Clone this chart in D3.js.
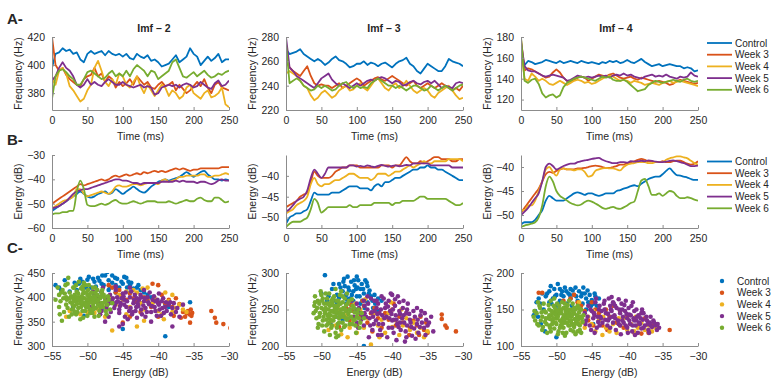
<!DOCTYPE html>
<html>
<head>
<meta charset="utf-8">
<script src="https://cdn.jsdelivr.net/npm/d3@7"></script>
<style>
  body { margin: 0; background: #fff; }
  svg { display: block; }
  text { font-family: "Liberation Sans", Arial, sans-serif; fill: #262626; }
</style>
</head>
<body>
<svg id="fig" width="772" height="383"></svg>
<script>
// ---- data ----
const groups = ['Control', 'Week 3', 'Week 4', 'Week 5', 'Week 6'];
const times = d3.range(0, 251, 5); // sampling grid, ms
const imfTitles = ['Imf – 2', 'Imf – 3', 'Imf – 4'];
const timeTicks = [0, 50, 100, 150, 200, 250];
const energyTicks = [-55, -50, -45, -40, -35, -30];

const freqDomains = [[368, 420], [220, 280], [110, 180]];
const freqTicks = [[380, 400, 420], [220, 240, 260, 280], [120, 140, 160, 180]];
const energyDomains = [[-60, -30], [-52.5, -35], [-52.7, -37.5]];
const energyYTicks = [[-60, -50, -40, -30], [-50, -45, -40], [-50, -45, -40]];
const scatterYDomains = [[300, 450], [200, 300], [100, 200]];
const scatterYTicks = [[300, 350, 400, 450], [200, 250, 300], [100, 150, 200]];

// A row: frequency vs time, one array per group
const freqImf2 = [
  [398,408,409,412,410,411,408,409,404,402,408,410,408,409,410,407,410,408,407,408,406,408,405,404,408,406,405,407,403,404,402,399,400,401,404,407,402,404,406,412,408,406,400,403,406,403,405,408,402,404,404],
  [420,400,396,398,393,390,388,386,385,390,392,393,398,392,394,388,392,390,384,388,385,387,390,386,392,389,386,388,384,383,386,388,385,386,388,382,386,383,380,382,385,388,385,390,384,380,386,388,384,383,382],
  [390,386,396,398,394,385,382,378,374,376,382,386,398,403,396,388,385,390,386,394,392,386,384,388,392,385,380,386,382,378,382,386,384,378,382,380,376,378,384,386,380,378,376,380,382,377,378,380,384,372,370],
  [389,392,398,402,398,396,392,386,384,386,390,386,388,386,385,388,390,388,386,386,388,386,385,384,385,386,384,385,384,379,380,384,385,386,385,386,384,386,387,386,384,385,388,386,384,383,387,389,385,386,389],
  [376,392,396,397,395,392,390,386,386,390,395,396,394,392,390,391,394,396,392,394,392,396,392,397,400,398,396,392,396,395,390,392,394,396,402,404,398,392,391,393,395,392,394,396,393,391,392,394,393,395,396]
];
const freqImf3 = [
  [270,266,267,268,270,266,264,262,260,262,260,257,259,262,264,261,260,258,255,256,258,258,260,257,259,258,256,258,259,257,255,258,260,261,263,258,256,252,250,254,258,256,254,252,252,256,262,260,259,258,256],
  [260,255,252,250,248,252,256,248,242,240,241,240,240,238,240,242,238,240,242,244,246,244,240,242,244,246,247,245,244,246,248,246,244,242,240,242,244,240,238,240,242,240,238,240,242,240,238,236,238,236,240],
  [250,252,250,248,244,240,238,232,228,230,234,236,233,230,232,236,238,240,236,237,240,242,238,236,240,244,246,242,238,236,240,242,238,240,244,240,236,234,236,238,236,232,230,234,236,238,240,236,232,229,230],
  [280,255,252,248,246,244,242,240,238,242,246,248,250,245,242,240,242,240,238,240,242,240,242,244,245,244,246,247,246,244,242,244,243,240,241,243,244,242,241,243,244,242,244,241,238,240,239,238,242,243,242],
  [275,242,244,246,244,240,238,236,237,240,238,240,238,236,237,240,242,243,240,238,240,238,239,238,242,244,246,244,242,240,240,238,240,238,236,238,240,240,238,236,237,240,238,236,238,240,238,236,238,240,241]
];
const freqImf4 = [
  [165,153,157,156,154,155,156,158,157,156,155,157,155,156,157,156,155,157,156,155,156,155,154,156,155,157,156,157,155,156,158,156,155,157,159,156,154,152,153,154,152,153,154,153,152,152,150,151,150,147,148],
  [178,148,150,149,147,145,143,141,142,146,149,146,141,138,137,139,141,142,141,138,140,142,144,143,142,144,145,143,141,140,141,142,140,139,141,140,139,138,137,138,137,136,134,135,138,139,138,137,136,135,136],
  [170,140,138,145,142,138,140,138,135,134,136,138,136,134,136,138,139,138,136,137,135,136,138,140,142,143,142,140,138,139,138,136,138,137,136,134,135,136,135,134,136,137,138,136,137,138,137,136,135,134,133],
  [175,152,148,147,147,145,143,142,143,144,143,142,141,138,139,141,143,142,141,142,141,142,143,142,143,141,143,144,143,145,143,144,142,141,140,142,143,144,142,143,142,144,142,141,140,142,141,142,146,143,142],
  [180,138,136,139,140,135,126,122,124,125,122,124,132,136,138,140,141,142,141,140,139,138,140,142,141,142,139,138,138,139,137,134,131,128,129,130,134,136,138,137,136,137,138,139,138,137,139,140,138,137,138]
];

// B row: energy vs time
const energyImf2 = [
  [-53,-52,-51,-50,-49,-48,-47,-46,-45,-46,-47,-47.5,-47,-46,-45.5,-45,-46,-45.5,-44,-45,-46,-45,-44,-43,-44,-45,-45.5,-44.5,-43,-42,-41,-40.5,-40,-40.5,-40,-39.5,-39,-38,-37,-38,-39,-38,-37,-36.5,-38,-39,-40,-40,-40.5,-40,-40.5],
  [-50,-49,-48,-47,-46,-45,-44,-43,-42,-42.5,-42,-41.5,-41,-40.5,-40,-40.5,-40,-39,-38.5,-39,-38.5,-38,-38.5,-38,-37.5,-38,-37,-37.5,-37,-36.5,-37,-36.5,-37,-36.5,-36,-35.5,-36,-35.5,-36,-36.5,-36,-36,-35.5,-35.5,-35.5,-35.5,-35.5,-35.5,-35,-35,-35],
  [-52,-51,-50,-49,-48.5,-48,-47,-44,-44,-46,-47,-46.5,-46,-45.5,-45,-45.5,-46,-45,-43,-42.5,-43,-43,-42.5,-42,-42,-42.5,-42,-41.5,-41.5,-41.5,-42,-40.5,-40,-41,-40.5,-40,-39,-39,-38.5,-38.5,-38.5,-38.5,-38,-38,-39,-39,-38.5,-38.5,-38,-37.5,-38],
  [-52,-51.5,-51,-50,-49,-47.5,-46,-45,-44.5,-44,-44,-43.5,-43,-42.5,-42,-41.5,-41,-40.5,-40,-40,-40.5,-40.5,-41,-41.5,-41.5,-42,-41.5,-41.5,-41.5,-41.5,-41.5,-41,-41,-41,-41,-40.5,-41,-40.5,-41,-41,-41,-41.5,-41,-41,-41.5,-42,-41.5,-40.5,-40,-40.5,-40.5],
  [-54.5,-54,-54,-53.5,-53.5,-53,-53,-45,-40.5,-44,-50.5,-51,-51,-50.5,-50,-50.5,-50,-49,-48.5,-49.5,-50,-50,-49.5,-49,-49.5,-50,-49.5,-49,-49,-49,-49.5,-49.5,-49.5,-49,-49.5,-50,-49.5,-49,-48.5,-49,-49,-48,-47.5,-48.5,-49,-49,-47.5,-47.5,-48.5,-49.5,-49]
];
const energyImf3 = [
  [-51.5,-50,-49.5,-49,-49,-48.5,-48,-46,-44,-44.5,-44.5,-44.5,-44.5,-44,-44,-44,-43.5,-43,-42.5,-42.5,-42.5,-43,-43,-43,-43.5,-42.5,-42,-42.5,-41.5,-41.5,-41,-40.5,-40.5,-40,-39.5,-39,-38.5,-38.5,-38,-38,-37.5,-38,-38,-38.5,-38.5,-39,-39.5,-40,-40.5,-41,-41],
  [-47.5,-47,-46.5,-46,-45,-44.5,-44,-41.5,-39,-40,-40.5,-40.5,-40.5,-40,-39,-38.5,-38,-38,-37.5,-37.5,-37.5,-38,-38,-38,-38,-38,-38,-37.5,-37.5,-37.5,-38,-37.5,-37.5,-36.5,-35.5,-36.5,-37,-37,-36.5,-37,-36.5,-36,-35.5,-35.5,-36,-36,-36,-36.5,-36.5,-36,-36],
  [-49,-48.5,-48,-47,-46.5,-46,-45,-42,-40.5,-42,-42.5,-42,-42,-41.5,-41,-41,-40.5,-40,-39.5,-39.5,-40,-40.5,-40.5,-40.5,-41,-40.5,-39.5,-39.5,-39.5,-40,-39.5,-39,-39,-38.5,-38,-37.5,-38,-37.5,-37,-36.5,-37,-37,-36.5,-36.5,-36.5,-36.5,-36,-36,-36,-36,-36.5],
  [-48.5,-48,-47,-46,-45.5,-45,-43.5,-40.5,-38.5,-39.5,-40.5,-39.5,-38,-38,-38,-38,-38,-38,-37.5,-37.5,-37.8,-37.6,-37.8,-37.5,-37.7,-37.9,-37.6,-37.4,-37.6,-37.8,-37.6,-37.5,-37.7,-37.6,-37.4,-37.5,-37,-37,-37,-37,-37,-37.5,-37.5,-37.5,-37.5,-37.5,-37.5,-38,-38,-38,-38],
  [-52.3,-51.5,-51,-51,-51,-50.5,-50,-48,-45.5,-46.5,-48.8,-48.2,-47.5,-47.5,-47.5,-47.5,-47.5,-47.5,-47,-47.5,-47.5,-47,-47,-47,-47,-46.5,-46.5,-46.5,-46.5,-46.5,-47,-46.5,-46.5,-46,-46,-46,-46,-45.5,-45,-45,-45.5,-45.5,-45.5,-45.5,-45.5,-45.5,-46,-46.5,-47,-47,-46.5]
];
const energyImf4 = [
  [-52,-51.5,-51.5,-51.5,-51,-50,-49,-47,-46,-46.5,-47,-47,-47,-46.5,-46,-45.5,-45.3,-45.5,-45.8,-45.5,-45.5,-45.8,-46,-45.8,-45.5,-45.5,-45.5,-45,-44.8,-44.5,-44.3,-44,-43.8,-44,-43.5,-43,-42.5,-42.2,-42,-42,-41.5,-40.8,-40.3,-41,-41.7,-41.8,-42,-42.2,-42.5,-42.7,-42.7],
  [-49.5,-48.5,-47.5,-46.5,-45.5,-44.5,-43,-41.5,-41,-41.2,-40.8,-40.5,-40.3,-40.5,-40.5,-40.5,-40.3,-40.3,-40.2,-40,-39.8,-39.7,-39.8,-40,-40.2,-40.2,-40,-39.8,-39.5,-39.5,-39.2,-39,-38.8,-38.5,-38.3,-38.5,-38.8,-38.8,-39,-39,-38.8,-39,-39,-38.8,-38.7,-38.7,-39,-39.3,-39.5,-39.3,-38.8],
  [-49,-49,-48,-48,-47,-45,-43,-40.5,-40,-41,-41.8,-40.5,-40.3,-40.5,-40.5,-40.7,-40.5,-40.5,-41,-42,-41.8,-40.8,-40.5,-40.3,-40.2,-40.3,-40.3,-40.5,-40.7,-40,-39.5,-39.3,-39.2,-39,-39,-39,-39.2,-39.2,-39,-39,-39,-38.5,-38.2,-38,-37.8,-37.8,-38,-38.2,-38.7,-39.2,-39.5],
  [-50,-49.3,-48.5,-47.5,-46.5,-45.5,-43,-40,-39.3,-39.8,-40.5,-40.2,-39.8,-39.5,-39.3,-39.3,-39,-38.8,-38.6,-38.5,-38.3,-38.2,-38.1,-38.5,-38.8,-39,-39.2,-39.2,-39,-39,-39.1,-38.8,-38.9,-38.8,-38.7,-38.8,-38.6,-38.7,-38.9,-39,-39,-38.9,-38.7,-38.6,-38.8,-39,-39.2,-39.5,-39.8,-39.8,-39.7],
  [-52.5,-52.2,-52,-51.8,-51.5,-50.5,-48,-44,-42,-43,-45,-46,-46.5,-47,-47.5,-47.8,-48,-47.8,-47.3,-47,-47.2,-47.6,-48,-48.5,-48.7,-48.5,-48.3,-48.6,-48.7,-48.4,-48,-47.5,-47.2,-45,-42.8,-42.5,-44,-45.8,-45.8,-45.5,-46,-45.5,-45,-45.2,-46,-46.5,-46.5,-46.3,-46.5,-46.8,-47]
];

// C row: frequency vs energy, flat [energy, freq, energy, freq, ...]
const scatterImf2 = [
  [-54.5,425,-54,420,-53.2,435,-52.5,412,-51.8,430,-51,438,-50.5,425,-50,436,-49.5,420,-49,432,-48.5,440,-48,428,-47.5,445,-47.2,452,-47,435,-46.5,430,-46,425,-45.8,438,-45.5,420,-45,428,-44.8,442,-44.5,440,-44.2,432,-44,425,-43.5,418,-43,420,-42.5,415,-42,410,-41.5,405,-41,400,-40.5,395,-40,390,-39,385,-38.5,380,-35.5,390,-39,320,-45,335,-48,410,-49,405,-47,415,-46,410,-50.5,362,-48,375,-52,380,-45,400,-43,395,-44,410,-46.5,445,-49.8,442,-51.5,415,
   -51.2,428,-50.7,432,-49.2,438,-48.3,434,-47.7,425,-46.8,420,-45.2,432,-43.8,430,-42.8,425,-50.2,420,-48.8,422,-47.9,445,-46.1,440,-53.7,415,-44.4,420],
  [-47,425,-46.5,420,-46,410,-45.5,415,-45,402,-44.5,395,-44,408,-43.5,398,-43,390,-42,400,-41.5,395,-40.8,428,-40,425,-39.5,405,-39,388,-38.5,395,-38,380,-37.5,398,-37,386,-36.5,370,-36.2,360,-36,368,-35.8,372,-35.6,365,-35.4,375,-35.3,362,-35.2,368,-35.5,348,-36.8,358,-37.8,362,-32.5,372,-32,358,-31.8,348,-30.8,345,-29.8,337,-45,348,-42.5,370,-41,380,-44,360,-40,360],
  [-53,360,-52.5,372,-51,365,-50,370,-49,368,-48.5,375,-47.5,360,-46.5,332,-46,385,-45.5,405,-45,395,-44.5,412,-44,380,-43.5,415,-43,410,-42.5,388,-42,375,-41.5,420,-41,385,-40.5,398,-40,372,-39.5,365,-39,410,-38.5,392,-38,370,-37.5,378,-37,385,-36.5,375,-36,370,-42,352,-43,340,-44.5,365,-47.8,380,-40.8,388,-39.2,355,-38,405,-42.2,418,-46.8,398],
  [-50,395,-49.5,380,-49,405,-48.5,390,-48,372,-48,412,-47.5,398,-47.2,385,-47,360,-46.8,405,-46.5,392,-46.2,378,-46,415,-45.8,400,-45.5,368,-45.3,388,-45,408,-44.8,395,-44.5,380,-44.3,355,-44,400,-43.8,412,-43.5,388,-43.2,372,-43,398,-42.8,382,-42.5,405,-42.3,365,-42,392,-41.8,378,-41.5,400,-41.3,386,-41,370,-40.8,395,-40.5,380,-40.2,362,-40,388,-39.8,375,-39.5,392,-39.2,368,-39,380,-38.8,372,-38.5,385,-38.2,365,-38,378,-37.5,370,-37,360,-47.5,350,-45,345,-43,358,-41,350,-44,420,-46,422,-42,415,-45.5,375,-43.7,365,-46.7,370,-44.8,385,-42.7,395,-40.6,402,-39.3,398,-48.7,400,-47.8,420,-47,395,-45.2,398,-41.8,360,-38.3,390,-39.9,408,-36.5,385,-38,340,-45.5,340,-49.2,412,-44.1,372,-42.1,383,-40.4,372,-43.3,405,-48.2,365,-46.1,385,
   -46.4,398,-45.9,390,-45.4,382,-44.9,402,-44.4,392,-43.9,378,-43.4,395,-42.9,388,-42.4,375,-41.9,398,-41.4,390,-40.9,382,-40.4,392,-39.9,385,-39.4,378,-38.9,390,-44.6,410,-43.1,380,-41.6,370,-40.1,395,-45.7,392,-47.3,378,-46.9,388,-37.8,388,-37.3,378,-43.6,370,-44.7,360,-42.4,400,-39.6,362,-41.2,410],
  [-54.5,395,-54,380,-54,405,-53.8,392,-53.5,415,-53.3,370,-53,400,-53,385,-52.8,428,-52.6,360,-52.5,410,-52.4,390,-52.2,375,-52,420,-52,398,-51.9,382,-51.8,405,-51.6,365,-51.5,392,-51.5,412,-51.3,378,-51.2,400,-51,388,-51,355,-50.9,418,-50.8,395,-50.7,372,-50.6,408,-50.5,385,-50.4,398,-50.3,425,-50.2,380,-50.1,392,-50,362,-50,405,-49.9,415,-49.8,388,-49.7,376,-49.6,400,-49.5,394,-49.4,410,-49.3,368,-49.2,383,-49.1,402,-49,390,-48.9,420,-48.8,378,-48.7,396,-48.6,405,-48.5,385,-48.3,372,-48.2,398,-48,410,-48,388,-47.8,380,-47.6,400,-47.5,392,-47.3,365,-47.2,385,-47,395,-52.7,440,-51.2,432,-53.6,352,-50.6,358,-49,360,-46.8,375,-46.5,388,-53.2,408,-52.1,385,-51.7,395,-50.9,380,-50.2,410,-49.5,375,-48.8,392,-51.4,370,-52.9,395,-50.5,430,-49.2,420,-54.2,420,-53.9,365,-47.9,415,-51.6,425,-48.4,362,
   -52.3,402,-51.9,392,-51.5,386,-51.1,396,-50.8,402,-50.4,388,-50,396,-49.7,406,-49.3,390,-48.9,398,-48.5,393,-52,375,-51.3,408,-50.6,415,-49.9,380,-49.1,376,-48.2,380,-47.7,405,-47.4,372,-53.4,398,-52.8,378,-53.7,410,-51.8,370,-50.3,372,-49.6,368,-48.9,410,-48.1,402,-50.8,390,-51.5,400,-52.5,398,-49.2,396,-50.1,384,-47.1,402,-47.8,388,-53.1,425,-51.9,420,-49.8,425,-48.6,415,-50.7,422,-52.2,365]
];
const scatterImf3 = [
  [-50,272,-49.5,297,-49,268,-48.5,278,-48,262,-47.5,285,-47,275,-46.8,292,-46.5,270,-46.2,280,-46,265,-45.8,288,-45.5,275,-45.3,283,-45,268,-44.8,290,-44.5,278,-44.3,285,-44,272,-43.8,290,-43.5,282,-43.2,276,-43,268,-42.8,262,-42.5,270,-42,265,-47.5,266,-46.5,258,-45.5,262,-44.5,258,-43.5,260,-44,200,-48,240,-47,236,-42,248,-41.5,262,-45,295,-46.3,295,-44.6,268,-47.8,270,-49.2,262,-48.7,232,-42.7,252,-43.9,252,-45.2,250,-46.7,282,
   -46.9,288,-46.1,276,-45.4,290,-44.9,280,-44.1,278,-43.6,287,-47.3,280,-45.7,270,-44.2,262,-43.3,272,-48.3,285,-42.4,258,-46.4,264,-45.1,278,-47.8,258],
  [-47,240,-46.5,252,-46,235,-45.5,248,-45,228,-44.5,240,-44,255,-43.5,232,-43,245,-42.5,252,-42,238,-41.5,225,-41,245,-40.5,236,-40,250,-39.5,228,-39,240,-38.5,232,-38,245,-37.5,225,-37,235,-36.5,228,-36,240,-35.5,222,-35.2,232,-35,218,-36.2,215,-37.6,215,-33,243,-33,237,-32.5,228,-32.3,225,-31,220,-44.2,262,-42.8,220,-39.8,258,-45.8,256,-47.5,226],
  [-49,222,-48.5,235,-48,228,-47.5,250,-46.5,242,-46,225,-45.5,235,-45,218,-44.5,250,-44,225,-43.5,238,-43,202,-42.5,245,-42,228,-41.5,236,-41,218,-40.5,245,-40,226,-39.5,235,-39,215,-38.5,228,-38,238,-37.5,222,-37,232,-36.5,218,-36,225,-35.5,212,-35,220,-43.8,264,-45.2,258,-40.2,260,-38.7,250,-46.3,212,-47.2,216,-41.8,212,-48.2,248],
  [-46,250,-45.5,240,-45,258,-45,232,-44.5,245,-44,262,-44,228,-43.5,250,-43.2,238,-43,265,-42.8,222,-42.5,248,-42.3,235,-42,258,-42,215,-41.8,245,-41.5,268,-41.3,230,-41,252,-40.8,240,-40.5,262,-40.5,225,-40.3,248,-40,235,-40,270,-39.8,218,-39.6,255,-39.5,242,-39.3,230,-39,260,-39,248,-38.8,222,-38.6,238,-38.5,252,-38.3,232,-38,245,-38,212,-37.8,258,-37.5,236,-37.3,226,-37,248,-36.8,240,-36.5,230,-36.3,218,-36,242,-35.8,232,-35.5,225,-35.2,236,-35,228,-34.5,240,-34.2,220,-41.2,265,-40.2,272,-39.2,268,-42.5,262,-43.7,240,-44.8,225,-45.8,262,-41.7,222,-40.7,212,-39.4,208,-38.2,206,-43.3,212,-37.2,214,-36.5,252,-41.1,238,-42.1,244,-39.8,236,-38.9,244,-40.6,254,-37.9,228,-42.6,230,-43.9,255,-44.4,236,-41.6,250,-39.1,226,-36.1,226,-38.4,262,-35.4,245,-37.6,244,-40.1,244,-42.9,246,
   -44.7,252,-43.9,245,-43.4,258,-42.7,240,-42.2,252,-41.9,230,-41.4,242,-40.9,258,-40.4,238,-39.9,250,-39.4,236,-38.9,232,-38.4,242,-37.9,250,-37.4,232,-36.9,224,-36.4,236,-35.9,248,-41.5,215,-40,225,-42.2,262,-43.1,228,-44.2,242,-39.6,264,-38.1,220,-45.2,248,-35.3,215,-34.8,232,-43.5,268,-36.7,210],
  [-51,255,-50.8,248,-50.5,262,-50.3,240,-50,270,-50,252,-49.8,235,-49.6,258,-49.5,245,-49.3,228,-49.2,265,-49,250,-49,238,-48.9,272,-48.8,255,-48.7,242,-48.6,225,-48.5,260,-48.4,248,-48.3,235,-48.2,268,-48.1,252,-48,240,-48,218,-47.9,262,-47.8,245,-47.7,230,-47.6,256,-47.5,238,-47.4,270,-47.3,250,-47.2,222,-47.1,244,-47,260,-47,232,-46.9,252,-46.8,240,-46.7,265,-46.6,228,-46.5,248,-46.4,236,-46.3,258,-46.2,244,-46,250,-46,230,-45.8,240,-45.6,255,-45.5,236,-45.3,246,-45.2,228,-45,240,-44.8,250,-44.5,232,-44.3,245,-44,238,-49.6,220,-48.8,215,-47.6,214,-47.9,212,-50.4,230,-49.9,262,-50.1,275,-49.4,272,-48,278,-49.1,242,-48.4,256,-47.4,246,-46.6,238,-47.8,225,-48.9,232,-49.7,250,-46.1,262,-45.7,264,-50.7,238,-50.9,268,-47.2,275,-46.4,272,-44.6,225,-45.1,218,-48.5,228,-47,250,-48.2,246,-49.2,258,
   -50.2,245,-49.7,240,-49.4,252,-49,258,-48.6,248,-48.2,240,-47.8,252,-47.4,242,-47,240,-46.6,250,-49.8,265,-49.1,230,-48.4,265,-47.6,262,-46.9,244,-46.2,238,-45.9,248,-45.4,252,-50.6,252,-50.3,258,-48.7,236,-47.5,232,-46.5,256,-45.6,230,-44.9,245,-49.5,248,-48,255,-47.3,258,-48.9,244,-47.9,248,-50.5,225,-49.9,228,-44.7,238,-45.3,236,-46.8,226,-51.1,245,-50.9,260,-49.3,236,-48.6,262,-47,268]
];
const scatterImf4 = [
  [-53,148,-52.5,165,-52.3,158,-52,172,-51.8,150,-51.5,168,-51,175,-51,160,-50.5,165,-50.3,178,-50,155,-50,170,-49.8,185,-49.5,162,-49.2,175,-49,168,-48.8,180,-48.5,158,-48.3,172,-48,165,-48,178,-47.8,155,-47.5,170,-47.3,180,-47,162,-46.8,175,-46.5,168,-46.3,158,-46,172,-45.8,165,-45.5,160,-45.3,170,-45,163,-44.8,158,-44.5,168,-44.3,155,-44,165,-50,112,-52.6,140,-51.6,120,-49.6,150,-48.7,152,-47.1,152,-45.8,150,-50.8,182,-46.2,180,-44.8,130,-52.2,130,-53.2,142,-49.5,178,
   -51.3,172,-50.2,168,-49.3,170,-48.6,175,-47.7,176,-47.2,168,-46.4,172,-45.6,176,-44.6,172,-50.7,158,-49.7,158,-48.1,170,-52.8,160,-46.9,158,-45.1,155],
  [-52.5,173,-52,173,-49,162,-48,165,-47.5,170,-46.5,155,-46,148,-45,160,-44.5,150,-44,145,-43.5,128,-43,150,-42.5,140,-42,155,-41.5,132,-41,148,-40.5,125,-40,140,-39.5,130,-39,118,-38.5,128,-38,117,-37.5,138,-37,118,-36.5,128,-36,130,-34,122,-48.5,150,-47,160,-45.5,135,-44.8,128,-42.8,122,-46.8,140],
  [-50,138,-49,135,-48.5,145,-47.5,128,-47,152,-46.5,132,-46,125,-45.5,140,-45,130,-44.5,120,-44,135,-43.5,115,-43,125,-42.5,120,-42,130,-41.5,118,-41,128,-40.5,138,-40,122,-39.5,130,-39,120,-38.5,125,-38,132,-37.5,122,-37,128,-36.5,120,-36,125,-44.8,148,-43.4,140,-46.8,160,-41.2,138,-38.8,140],
  [-46,145,-45.8,135,-45.5,155,-45.3,128,-45,148,-44.8,138,-44.5,160,-44.3,125,-44,150,-43.8,140,-43.5,132,-43.3,158,-43,145,-42.8,128,-42.6,165,-42.5,138,-42.3,150,-42,132,-42,160,-41.8,142,-41.6,122,-41.5,152,-41.3,135,-41,145,-41,128,-40.8,158,-40.6,140,-40.5,132,-40.3,148,-40,125,-40,138,-39.8,152,-39.6,130,-39.5,142,-39.3,120,-39,135,-39,148,-38.8,128,-38.6,140,-38.5,118,-38.3,132,-38,145,-38,124,-37.8,136,-37.5,128,-37.3,140,-37,122,-36.8,132,-36.5,126,-36.3,135,-36,128,-35.8,122,-35.5,125,-43.2,162,-42.2,167,-41.2,164,-40.2,162,-39.2,160,-44.6,142,-43.6,148,-42.7,144,-41.7,138,-40.7,135,-39.7,143,-38.7,135,-37.7,145,-45.6,140,-44.1,133,-43.1,136,-42.1,140,-41.1,150,-40.1,144,-39.1,138,-38.1,138,-37.1,130,-45.1,122,-44.6,118,-40.9,116,-39.9,118,-38.9,115,-46.6,150,-36.7,140,-43.9,155,-42.4,155,
   -45.2,150,-44.7,145,-44.2,140,-43.7,138,-43.2,150,-42.7,135,-42.2,148,-41.7,155,-41.2,130,-40.7,150,-40.2,128,-39.7,135,-39.2,128,-38.7,150,-38.2,130,-37.7,125,-37.2,135,-36.7,128,-36.2,132,-41.9,158,-40.4,156,-43.9,128,-42.4,125,-39.4,155,-37.9,150,-44.4,165,-45.9,130,-36.9,118,-35.7,130,-38.4,142],
  [-53,135,-52.8,145,-52.5,128,-52.3,152,-52,140,-52,122,-51.8,158,-51.6,133,-51.5,146,-51.3,118,-51.2,138,-51,150,-51,128,-50.8,162,-50.7,142,-50.5,134,-50.4,155,-50.3,124,-50.2,147,-50,138,-50,130,-49.9,158,-49.8,143,-49.7,120,-49.6,150,-49.5,135,-49.4,128,-49.3,145,-49.2,160,-49.1,138,-49,125,-49,152,-48.9,142,-48.8,132,-48.7,148,-48.6,118,-48.5,138,-48.4,156,-48.3,128,-48.2,145,-48.1,135,-48,150,-48,122,-47.9,140,-47.8,130,-47.7,158,-47.6,145,-47.5,126,-47.4,137,-47.3,150,-47.2,132,-47.1,142,-47,120,-47,155,-46.9,136,-46.8,146,-46.7,128,-46.6,140,-46.5,118,-46.5,150,-51.7,148,-50.9,137,-50.1,143,-49.3,133,-48.6,146,-47.9,135,-49.6,155,-51.4,130,-52.2,135,-53.2,140,-52.6,160,-50.3,165,-48.2,162,-49.8,116,-48.8,114,-47.3,116,-50.5,145,-49,138,-48.4,142,-47.5,145,-46.2,142,-46.3,133,-51.1,156,
   -51,142,-50.7,148,-50.4,138,-50.1,132,-49.8,140,-49.5,145,-49.2,130,-48.9,136,-48.6,152,-48.3,140,-48,134,-47.7,148,-47.4,130,-47.1,138,-46.8,152,-51.5,138,-52.1,146,-52.7,130,-50.9,125,-50.2,152,-49.5,125,-48.8,158,-48.1,128,-47.5,152,-46.9,130,-46.4,138,-50.6,130,-49.9,148,-49.3,150,-48.5,132,-47.8,142,-47.2,135,-51.9,126,-52.4,155,-53.1,148,-46.7,122,-47.6,120,-50.8,120,-49.1,118,-48.4,150]
];

// ---- layout ----
const colors = ['#0072BD', '#D95319', '#EDB120', '#7E2F8E', '#77AC30'];
const colLeft = [52, 286, 521];
const axW = 177;
const rowTop = [37, 155, 273];
const axH = 73;
const titleX = [154, 384, 616];
const axisColor = '#8c8c8c';

const svg = d3.select('#fig');
let clipId = 0;

function drawFrame(g, x, y, xTicks, yTicks, yLabel, xLabel) {
  const xa = g.append('g')
    .attr('transform', `translate(0,${axH})`)
    .call(d3.axisBottom(x).tickValues(xTicks).tickSizeInner(-3).tickSizeOuter(0).tickPadding(7));
  const ya = g.append('g')
    .call(d3.axisLeft(y).tickValues(yTicks).tickSizeInner(-3).tickSizeOuter(0).tickPadding(7));
  [xa, ya].forEach(a => {
    a.select('.domain').attr('stroke', axisColor);
    a.selectAll('.tick line').attr('stroke', axisColor);
    a.selectAll('.tick text').attr('font-size', 10.5).attr('fill', '#333');
  });
  g.append('text')
    .attr('transform', `translate(-30,${axH / 2}) rotate(-90)`)
    .attr('text-anchor', 'middle')
    .attr('font-size', 10.5)
    .text(yLabel);
  g.append('text')
    .attr('x', axW / 2)
    .attr('y', axH + 30)
    .attr('text-anchor', 'middle')
    .attr('font-size', 10.5)
    .text(xLabel);
}

function addClip(g) {
  const id = 'clip' + (clipId++);
  g.append('clipPath').attr('id', id)
    .append('rect').attr('width', axW).attr('height', axH);
  return id;
}

function linePanel(col, row, series, yDomain, yTicks, yLabel) {
  const g = svg.append('g').attr('transform', `translate(${colLeft[col]},${rowTop[row]})`);
  const x = d3.scaleLinear().domain([0, 250]).range([0, axW]);
  const y = d3.scaleLinear().domain(yDomain).range([axH, 0]);
  const id = addClip(g);
  const line = d3.line()
    .x((d, i) => x(times[i]))
    .y(d => y(d))
    .curve(row === 1 ? d3.curveMonotoneX : d3.curveLinear);
  g.append('g').attr('clip-path', `url(#${id})`)
    .selectAll('path')
    .data(series)
    .join('path')
    .attr('d', line)
    .attr('fill', 'none')
    .attr('stroke', (d, i) => colors[i])
    .attr('stroke-width', 1.8)
    .attr('stroke-linejoin', 'round');
  drawFrame(g, x, y, timeTicks, yTicks, yLabel, 'Time (ms)');
  return g;
}

function scatterPanel(col, series, yDomain, yTicks) {
  const g = svg.append('g').attr('transform', `translate(${colLeft[col]},${rowTop[2]})`);
  const x = d3.scaleLinear().domain([-55, -30]).range([0, axW]);
  const y = d3.scaleLinear().domain(yDomain).range([axH, 0]);
  const id = addClip(g);
  const layer = g.append('g').attr('clip-path', `url(#${id})`);
  series.forEach((flat, k) => {
    const pts = [];
    for (let i = 0; i < flat.length; i += 2) pts.push([flat[i], flat[i + 1]]);
    layer.append('g').selectAll('circle')
      .data(pts)
      .join('circle')
      .attr('cx', d => x(d[0]))
      .attr('cy', d => y(d[1]))
      .attr('r', 2.3)
      .attr('fill', colors[k]);
  });
  drawFrame(g, x, y, energyTicks, yTicks, 'Frequency (Hz)', 'Energy (dB)');
}

// A row
[freqImf2, freqImf3, freqImf4].forEach((s, c) => {
  linePanel(c, 0, s, freqDomains[c], freqTicks[c], 'Frequency (Hz)');
  svg.append('text')
    .attr('x', titleX[c]).attr('y', 32)
    .attr('text-anchor', 'middle')
    .attr('font-size', 10.5).attr('font-weight', 'bold')
    .text(imfTitles[c]);
});
// B row
[energyImf2, energyImf3, energyImf4].forEach((s, c) => {
  linePanel(c, 1, s, energyDomains[c], energyYTicks[c], 'Energy (dB)');
});
// C row
[scatterImf2, scatterImf3, scatterImf4].forEach((s, c) => {
  scatterPanel(c, s, scatterYDomains[c], scatterYTicks[c]);
});

// panel letters
[['A-', 24], ['B-', 145], ['C-', 253]].forEach(([t, yy]) => {
  svg.append('text').attr('x', 7).attr('y', yy)
    .attr('font-size', 15).attr('font-weight', 'bold').attr('fill', '#111')
    .text(t);
});

// legends
function lineLegend(y0) {
  const lg = svg.append('g').attr('transform', `translate(707,${y0})`);
  groups.forEach((name, i) => {
    const row = lg.append('g').attr('transform', `translate(0,${i * 11.7})`);
    row.append('line').attr('x1', 0).attr('x2', 25)
      .attr('stroke', colors[i]).attr('stroke-width', 1.8);
    row.append('text').attr('x', 28).attr('dy', '0.35em')
      .attr('font-size', 10).text(name);
  });
}
lineLegend(43);
lineLegend(161.5);
const sl = svg.append('g').attr('transform', `translate(722,281)`);
groups.forEach((name, i) => {
  const row = sl.append('g').attr('transform', `translate(0,${i * 11.7})`);
  row.append('circle').attr('r', 2.2).attr('fill', colors[i]);
  row.append('text').attr('x', 15).attr('dy', '0.35em')
    .attr('font-size', 10).text(name);
});
</script>
</body>
</html>
